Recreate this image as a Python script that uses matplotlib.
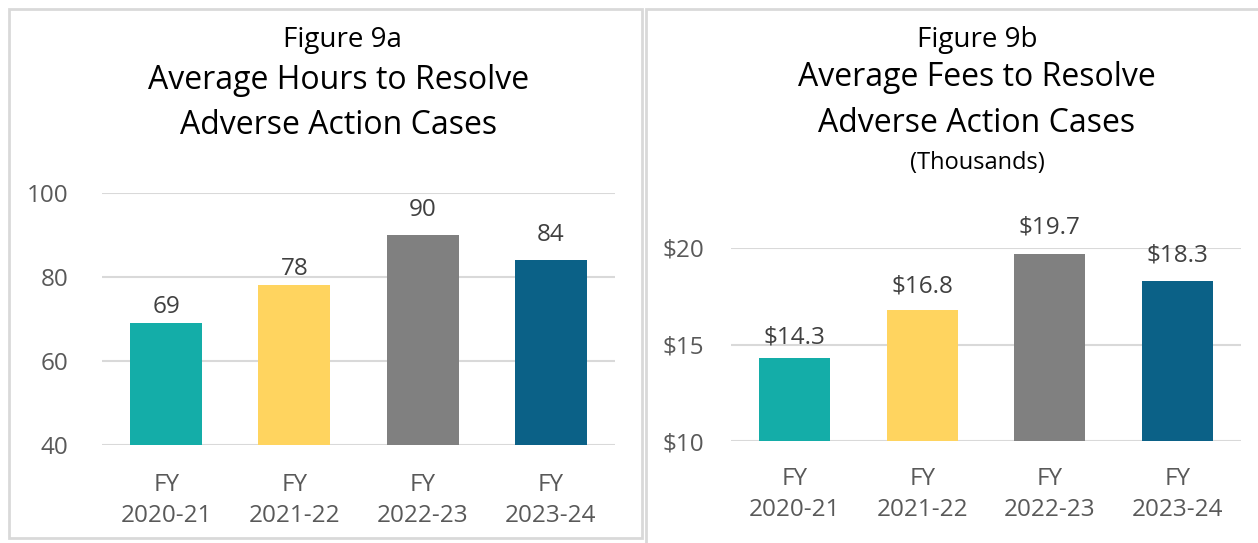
import matplotlib
matplotlib.use("Agg")
import matplotlib.pyplot as plt
from matplotlib.patches import Rectangle

plt.rcParams['font.family'] = ['Open Sans', 'DejaVu Sans']

categories = ["FY\n2020-21", "FY\n2021-22", "FY\n2022-23", "FY\n2023-24"]
hours = [69, 78, 90, 84]
fees = [14.3, 16.8, 19.7, 18.3]
hour_labels = ["69", "78", "90", "84"]
fee_labels = ["$14.3", "$16.8", "$19.7", "$18.3"]
colors = ["#14ADA8", "#FFD45F", "#808080", "#0B6187"]

# label gap above bar (pixels), as placed in the original
hour_gap_px = [10, 10, 19, 19]
fee_gap_px = [15, 17, 20, 19]

W, H = 1258, 543
fig = plt.figure(figsize=(W / 100, H / 100), dpi=100)
fig.patch.set_facecolor("white")

def fx(px):
    return px / W

def fy(py):
    return 1 - py / H

# panel borders
border = "#D9D9D9"
fig.add_artist(Rectangle((fx(9), fy(538)), fx(642) - fx(9), fy(9) - fy(538),
                         transform=fig.transFigure, fill=False, edgecolor=border, lw=2))
fig.add_artist(Rectangle((fx(646), fy(560)), fx(1270) - fx(646), fy(9) - fy(560),
                         transform=fig.transFigure, fill=False, edgecolor=border, lw=2))

tick_color = "#595959"

def make_axes(x0, x1, ybot, ytop, ylo, yhi, yticks, ytl, values, labels, gaps, catpad, ypad):
    ax = fig.add_axes([fx(x0), fy(ybot), fx(x1) - fx(x0), fy(ytop) - fy(ybot)])
    x = range(len(values))
    bars = ax.bar(x, values, width=0.56, color=colors, zorder=3)
    ax.set_xlim(-0.5, 3.5)
    ax.set_ylim(ylo, yhi)
    ax.set_yticks(yticks)
    ax.set_yticklabels(ytl, fontsize=17.5, color=tick_color)
    ax.set_xticks(list(x))
    ax.set_xticklabels(categories, fontsize=17.5, color=tick_color, linespacing=1.38)
    ax.tick_params(axis='both', length=0)
    ax.tick_params(axis='y', pad=ypad)
    ax.tick_params(axis='x', pad=catpad)
    for s in ax.spines.values():
        s.set_visible(False)
    ax.grid(axis='y', color="#D9D9D9", lw=1.5, zorder=0)
    ax.set_axisbelow(True)
    for b, lab, g in zip(bars, labels, gaps):
        ax.annotate(lab, (b.get_x() + b.get_width() / 2, b.get_height()),
                    xytext=(0, g * 0.72), textcoords="offset points", ha="center", va="baseline",
                    fontsize=17.5, color="#404040", annotation_clip=False)
    return ax

make_axes(102, 615, 445, 193, 40, 100, [40, 60, 80, 100], ["40", "60", "80", "100"],
          hours, hour_labels, hour_gap_px, 20, 24)
make_axes(731, 1241, 441, 248, 10, 20, [10, 15, 20], ["$10", "$15", "$20"],
          fees, fee_labels, fee_gap_px, 18.5, 19.5)

# titles
fig.text(fx(342), fy(40), "Figure 9a", ha="center", va="center", fontsize=20, color="black")
fig.text(fx(339), fy(80), "Average Hours to Resolve", ha="center", va="center", fontsize=23)
fig.text(fx(339), fy(125), "Adverse Action Cases", ha="center", va="center", fontsize=23)

fig.text(fx(977), fy(40), "Figure 9b", ha="center", va="center", fontsize=20)
fig.text(fx(977), fy(78), "Average Fees to Resolve", ha="center", va="center", fontsize=23)
fig.text(fx(977), fy(123), "Adverse Action Cases", ha="center", va="center", fontsize=23)
fig.text(fx(977), fy(163), "(Thousands)", ha="center", va="center", fontsize=17)

fig.savefig("out.png", dpi=100, facecolor="white")
